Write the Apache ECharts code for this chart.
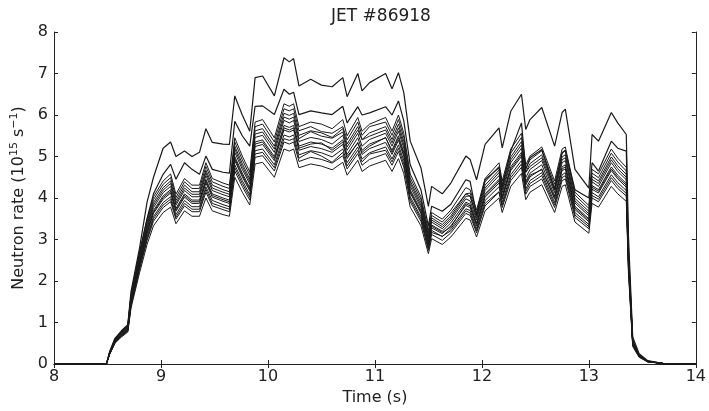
<!DOCTYPE html>
<html>
<head>
<meta charset="utf-8">
<script src="https://cdn.jsdelivr.net/npm/echarts@6/dist/echarts.min.js"></script>
<style>
  html, body { margin: 0; padding: 0; background: #fff; }
  #chart { width: 709px; height: 411px; }
</style>
</head>
<body>
<div id="chart"></div>
<script>
// time grid (s)
var times = [8.00, 8.49, 8.52, 8.57, 8.63, 8.69, 8.72, 8.80, 8.87, 8.93,
  9.02, 9.09, 9.14, 9.22, 9.29, 9.36, 9.42, 9.48, 9.58, 9.64,
  9.69, 9.76, 9.83, 9.88, 9.95, 10.06, 10.15, 10.20, 10.24, 10.29,
  10.40, 10.50, 10.60, 10.70, 10.74, 10.84, 10.88, 10.95, 11.10, 11.16,
  11.22, 11.27, 11.33, 11.43, 11.50, 11.53, 11.63, 11.71, 11.85, 11.89,
  11.95, 12.03, 12.16, 12.19, 12.27, 12.37, 12.41, 12.45, 12.56, 12.68,
  12.75, 12.78, 12.87, 13.00, 13.03, 13.09, 13.21, 13.27, 13.35, 13.37,
  13.41, 13.47, 13.55, 13.70, 14.00];

// neutron rate curves (1e15 /s)
var topLine = [0, 0, 0.3, 0.62, 0.8, 0.95, 1.75, 2.8, 3.9, 4.5,
  5.2, 5.35, 5.0, 5.13, 5.0, 5.1, 5.67, 5.34, 5.3, 5.29,
  6.46, 6.0, 5.61, 6.9, 6.94, 6.46, 7.38, 7.28, 7.36, 6.7,
  6.86, 6.72, 6.68, 6.9, 6.44, 7.0, 6.58, 6.78, 7.0, 6.63,
  7.02, 6.54, 5.37, 4.73, 3.8, 4.28, 4.1, 4.36, 5.01, 4.93,
  4.44, 5.29, 5.69, 5.21, 6.09, 6.5, 5.65, 5.89, 6.18, 5.25,
  6.06, 6.14, 4.69, 4.24, 5.53, 5.37, 6.06, 5.81, 5.53, 3.1,
  0.65, 0.25, 0.08, 0.01, 0];

var secondLine = [0, 0, 0.28, 0.6, 0.77, 0.92, 1.65, 2.7, 3.5, 4.1,
  4.57, 4.81, 4.45, 4.85, 4.69, 4.57, 5.01, 4.69, 4.62, 4.6,
  5.85, 5.5, 5.25, 6.21, 6.22, 6.01, 6.62, 6.5, 6.55, 6.01,
  6.1, 6.05, 6.01, 6.21, 5.81, 6.2, 6.0, 6.05, 6.2, 6.0,
  6.34, 5.86, 4.8, 4.2, 3.32, 3.8, 3.68, 3.85, 4.44, 4.4,
  3.6, 4.44, 4.73, 4.28, 5.13, 5.81, 4.69, 4.97, 5.17, 4.2,
  5.09, 5.15, 4.2, 4.0, 4.85, 4.65, 5.37, 5.2, 5.13, 2.8,
  0.58, 0.22, 0.07, 0.01, 0];

var bundle1 = [0, 0, 0.23, 0.5, 0.65, 0.77, 1.35, 2.2, 2.88, 3.33,
  3.65, 3.78, 3.38, 3.69, 3.56, 3.56, 4.0, 3.69, 3.6, 3.56,
  4.5, 4.14, 3.83, 4.82, 4.86, 4.5, 5.18, 5.13, 5.18, 4.73,
  4.82, 4.77, 4.68, 4.86, 4.55, 4.91, 4.64, 4.77, 4.91, 4.64,
  4.95, 4.59, 3.78, 3.33, 2.66, 3.02, 2.88, 3.06, 3.51, 3.47,
  3.06, 3.69, 4.0, 3.65, 4.28, 4.59, 3.96, 4.14, 4.32, 3.65,
  4.28, 4.32, 3.42, 3.15, 3.87, 3.78, 4.28, 4.1, 3.92, 2.2,
  0.42, 0.16, 0.05, 0.01, 0];

var bundle2 = [0, 0, 0.23, 0.51, 0.67, 0.79, 1.4, 2.28, 2.98, 3.44,
  3.77, 3.91, 3.49, 3.81, 3.67, 3.67, 4.14, 3.81, 3.72, 3.67,
  4.65, 4.28, 3.95, 4.98, 5.02, 4.65, 5.35, 5.3, 5.35, 4.88,
  4.98, 4.93, 4.84, 5.02, 4.7, 5.07, 4.79, 4.93, 5.07, 4.79,
  5.12, 4.74, 3.91, 3.44, 2.74, 3.12, 2.98, 3.16, 3.63, 3.58,
  3.16, 3.81, 4.14, 3.77, 4.42, 4.74, 4.09, 4.28, 4.46, 3.77,
  4.42, 4.46, 3.53, 3.26, 4.0, 3.91, 4.42, 4.23, 4.05, 2.3,
  0.45, 0.18, 0.05, 0.01, 0];

var bundle3 = [0, 0, 0.24, 0.53, 0.69, 0.82, 1.44, 2.35, 3.07, 3.55,
  3.89, 4.03, 3.6, 3.94, 3.79, 3.79, 4.27, 3.94, 3.84, 3.79,
  4.8, 4.42, 4.08, 5.14, 5.18, 4.8, 5.52, 5.47, 5.52, 5.04,
  5.14, 5.09, 4.99, 5.18, 4.85, 5.23, 4.94, 5.09, 5.23, 4.94,
  5.28, 4.9, 4.03, 3.55, 2.83, 3.22, 3.07, 3.26, 3.74, 3.7,
  3.26, 3.94, 4.27, 3.89, 4.56, 4.9, 4.22, 4.42, 4.61, 3.89,
  4.56, 4.61, 3.65, 3.36, 4.13, 4.03, 4.56, 4.37, 4.18, 2.4,
  0.48, 0.19, 0.06, 0.01, 0];

var bundle4 = [0, 0, 0.25, 0.54, 0.71, 0.83, 1.47, 2.4, 3.14, 3.63,
  3.97, 4.12, 3.68, 4.02, 3.87, 3.87, 4.36, 4.02, 3.92, 3.87,
  4.9, 4.51, 4.17, 5.24, 5.29, 4.9, 5.64, 5.59, 5.64, 5.15,
  5.24, 5.19, 5.1, 5.29, 4.95, 5.34, 5.05, 5.19, 5.34, 5.05,
  5.39, 5.0, 4.12, 3.63, 2.89, 3.28, 3.14, 3.33, 3.82, 3.77,
  3.33, 4.02, 4.36, 3.97, 4.66, 5.0, 4.31, 4.51, 4.7, 3.97,
  4.66, 4.7, 3.72, 3.43, 4.21, 4.12, 4.66, 4.46, 4.26, 2.45,
  0.49, 0.2, 0.06, 0.01, 0];

var bundle5 = [0, 0, 0.25, 0.55, 0.72, 0.85, 1.5, 2.45, 3.2, 3.7,
  4.05, 4.2, 3.75, 4.1, 3.95, 3.95, 4.45, 4.1, 4.0, 3.95,
  5.0, 4.6, 4.25, 5.35, 5.4, 5.0, 5.75, 5.7, 5.75, 5.25,
  5.35, 5.3, 5.2, 5.4, 5.05, 5.45, 5.15, 5.3, 5.45, 5.15,
  5.5, 5.1, 4.2, 3.7, 2.95, 3.35, 3.2, 3.4, 3.9, 3.85,
  3.4, 4.1, 4.45, 4.05, 4.75, 5.1, 4.4, 4.6, 4.8, 4.05,
  4.75, 4.8, 3.8, 3.5, 4.3, 4.2, 4.75, 4.55, 4.35, 2.5,
  0.5, 0.2, 0.06, 0.01, 0];

var bundle6 = [0, 0, 0.26, 0.56, 0.73, 0.87, 1.53, 2.5, 3.26, 3.77,
  4.13, 4.28, 3.83, 4.18, 4.03, 4.03, 4.54, 4.18, 4.08, 4.03,
  5.1, 4.69, 4.34, 5.46, 5.51, 5.1, 5.87, 5.81, 5.87, 5.36,
  5.46, 5.41, 5.3, 5.51, 5.15, 5.56, 5.25, 5.41, 5.56, 5.25,
  5.61, 5.2, 4.28, 3.77, 3.01, 3.42, 3.26, 3.47, 3.98, 3.93,
  3.47, 4.18, 4.54, 4.13, 4.85, 5.2, 4.49, 4.69, 4.9, 4.13,
  4.85, 4.9, 3.88, 3.57, 4.39, 4.28, 4.85, 4.64, 4.44, 2.55,
  0.51, 0.2, 0.06, 0.01, 0];

var bundle7 = [0, 0, 0.26, 0.58, 0.76, 0.89, 1.58, 2.57, 3.36, 3.89,
  4.25, 4.41, 3.94, 4.31, 4.15, 4.15, 4.67, 4.31, 4.2, 4.15,
  5.25, 4.83, 4.46, 5.62, 5.67, 5.25, 6.04, 5.99, 6.04, 5.51,
  5.62, 5.57, 5.46, 5.67, 5.3, 5.72, 5.41, 5.57, 5.72, 5.41,
  5.78, 5.36, 4.41, 3.89, 3.1, 3.52, 3.36, 3.57, 4.1, 4.04,
  3.57, 4.31, 4.67, 4.25, 4.99, 5.36, 4.62, 4.83, 5.04, 4.25,
  4.99, 5.04, 3.99, 3.68, 4.52, 4.41, 4.99, 4.78, 4.57, 2.62,
  0.53, 0.21, 0.06, 0.01, 0];

var bundle8 = [0, 0, 0.27, 0.6, 0.78, 0.93, 1.64, 2.67, 3.49, 4.03,
  4.41, 4.58, 4.09, 4.47, 4.31, 4.31, 4.85, 4.47, 4.36, 4.31,
  5.45, 5.01, 4.63, 5.83, 5.89, 5.45, 6.27, 6.21, 6.27, 5.72,
  5.83, 5.78, 5.67, 5.89, 5.5, 5.94, 5.61, 5.78, 5.94, 5.61,
  6.0, 5.56, 4.58, 4.03, 3.22, 3.65, 3.49, 3.71, 4.25, 4.2,
  3.71, 4.47, 4.85, 4.41, 5.18, 5.56, 4.8, 5.01, 5.23, 4.41,
  5.18, 5.23, 4.14, 3.82, 4.69, 4.58, 5.18, 4.96, 4.74, 2.72,
  0.55, 0.22, 0.07, 0.01, 0];

var bundle9 = [0, 0, 0.24, 0.52, 0.68, 0.8, 1.42, 2.32, 3.02, 3.5,
  3.83, 3.97, 3.54, 3.87, 3.73, 3.73, 4.21, 3.87, 3.78, 3.73,
  4.73, 4.35, 4.02, 5.06, 5.1, 4.73, 5.43, 5.39, 5.43, 4.96,
  5.12, 5.01, 4.86, 5.1, 4.77, 5.15, 4.87, 5.06, 5.15, 4.87,
  5.2, 4.82, 3.97, 3.5, 2.79, 3.17, 3.08, 3.21, 3.69, 3.64,
  3.21, 3.87, 4.15, 3.83, 4.49, 4.82, 4.16, 4.35, 4.54, 3.83,
  4.49, 4.54, 3.59, 3.31, 4.06, 3.97, 4.49, 4.3, 4.11, 2.36,
  0.47, 0.19, 0.06, 0.01, 0];

var bundle10 = [0, 0, 0.25, 0.54, 0.71, 0.84, 1.49, 2.43, 3.17, 3.66,
  4.01, 4.16, 3.71, 4.06, 3.91, 3.91, 4.41, 4.06, 3.96, 3.91,
  4.95, 4.55, 4.21, 5.3, 5.35, 4.95, 5.69, 5.64, 5.69, 5.2,
  5.3, 5.33, 5.15, 5.35, 5.0, 5.32, 5.1, 5.25, 5.46, 5.1,
  5.45, 5.05, 4.16, 3.66, 2.92, 3.32, 3.17, 3.3, 3.86, 3.81,
  3.37, 4.06, 4.41, 4.01, 4.7, 5.05, 4.36, 4.55, 4.68, 4.01,
  4.7, 4.75, 3.76, 3.47, 4.26, 4.16, 4.7, 4.5, 4.31, 2.48,
  0.5, 0.2, 0.06, 0.01, 0];

var bundle11 = [0, 0, 0.26, 0.57, 0.75, 0.88, 1.55, 2.54, 3.31, 3.83,
  4.19, 4.35, 3.88, 4.24, 4.09, 4.09, 4.61, 4.24, 4.14, 4.09,
  5.18, 4.76, 4.4, 5.54, 5.59, 5.18, 5.95, 5.9, 5.95, 5.43,
  5.6, 5.49, 5.44, 5.59, 5.23, 5.64, 5.4, 5.49, 5.64, 5.33,
  5.69, 5.28, 4.35, 3.83, 3.05, 3.47, 3.31, 3.52, 4.04, 4.05,
  3.52, 4.24, 4.61, 4.19, 4.92, 5.28, 4.62, 4.76, 4.97, 4.19,
  4.92, 4.97, 3.93, 3.62, 4.45, 4.35, 4.92, 4.71, 4.5, 2.59,
  0.52, 0.21, 0.06, 0.01, 0];

var bundle12 = [0, 0, 0.27, 0.59, 0.77, 0.91, 1.61, 2.62, 3.42, 3.96,
  4.33, 4.49, 4.01, 4.39, 4.23, 4.23, 4.76, 4.39, 4.28, 4.23,
  5.35, 4.92, 4.55, 5.72, 5.78, 5.35, 6.15, 6.1, 6.15, 5.62,
  5.72, 5.6, 5.56, 5.72, 5.4, 5.83, 5.51, 5.72, 5.83, 5.51,
  5.89, 5.46, 4.49, 3.96, 3.16, 3.58, 3.42, 3.64, 4.1, 4.12,
  3.64, 4.39, 4.76, 4.33, 5.08, 5.46, 4.71, 4.92, 5.14, 4.33,
  5.08, 5.14, 4.07, 3.75, 4.6, 4.49, 5.08, 4.87, 4.65, 2.68,
  0.54, 0.21, 0.06, 0.01, 0];

var curves = [topLine, secondLine, bundle1, bundle2, bundle3, bundle4,
  bundle5, bundle6, bundle7, bundle8, bundle9, bundle10, bundle11, bundle12];

var chartDom = document.getElementById('chart');
var chart = echarts.init(chartDom);

var fontFam = 'DejaVu Sans';
var axisCol = '#222';

var seriesList = curves.map(function (vals, k) {
  return {
    type: 'line',
    showSymbol: false,
    symbol: 'none',
    silent: true,
    data: times.map(function (t, i) { return [t, vals[i]]; }),
    lineStyle: { color: '#1a1a1a', width: k < 2 ? 1.2 : 1 },
  };
});

var option = {
  animation: false,
  backgroundColor: '#fff',
  title: {
    text: 'JET #86918',
    left: 376,
    textAlign: 'center',
    top: 3,
    textStyle: { fontFamily: fontFam, fontSize: 17, fontWeight: 'normal', color: '#222' },
  },
  grid: { left: 54, right: 11, top: 32, bottom: 47 },
  xAxis: [
    {
      type: 'value', min: 8, max: 14, interval: 1,
      name: 'Time (s)', nameLocation: 'middle', nameGap: 24,
      nameTextStyle: { fontFamily: fontFam, fontSize: 16, color: '#222' },
      axisLine: { lineStyle: { color: axisCol, width: 1 } },
      axisTick: { inside: true, length: 4, lineStyle: { color: axisCol } },
      axisLabel: { fontFamily: fontFam, fontSize: 16, color: '#222', margin: 5 },
      splitLine: { show: false },
    },
    {
      type: 'value', position: 'top', min: 8, max: 14, interval: 1,
      axisLine: { lineStyle: { color: axisCol, width: 1 } },
      axisTick: { inside: true, length: 4, lineStyle: { color: axisCol } },
      axisLabel: { show: false },
      splitLine: { show: false },
    },
  ],
  yAxis: [
    {
      type: 'value', min: 0, max: 8, interval: 1,
      name: '{a|Neutron rate (10}{s|15}{a| s}{s|−1}{a|)}',
      nameLocation: 'middle', nameGap: 26, nameRotate: 90,
      nameTextStyle: {
        rich: {
          a: { fontFamily: fontFam, fontSize: 16, color: '#222' },
          s: { fontFamily: fontFam, fontSize: 11, color: '#222', verticalAlign: 'top', padding: [0, 0, 8, 0] },
        },
      },
      axisLine: { show: true, lineStyle: { color: axisCol, width: 1 } },
      axisTick: { show: true, inside: true, length: 4, lineStyle: { color: axisCol } },
      axisLabel: { fontFamily: fontFam, fontSize: 16, color: '#222', margin: 6 },
      splitLine: { show: false },
    },
    {
      type: 'value', position: 'right', min: 0, max: 8, interval: 1,
      axisLine: { show: true, lineStyle: { color: axisCol, width: 1 } },
      axisTick: { show: true, inside: true, length: 4, lineStyle: { color: axisCol } },
      axisLabel: { show: false },
      splitLine: { show: false },
    },
  ],
  series: seriesList,
};

chart.setOption(option);
</script>
</body>
</html>
